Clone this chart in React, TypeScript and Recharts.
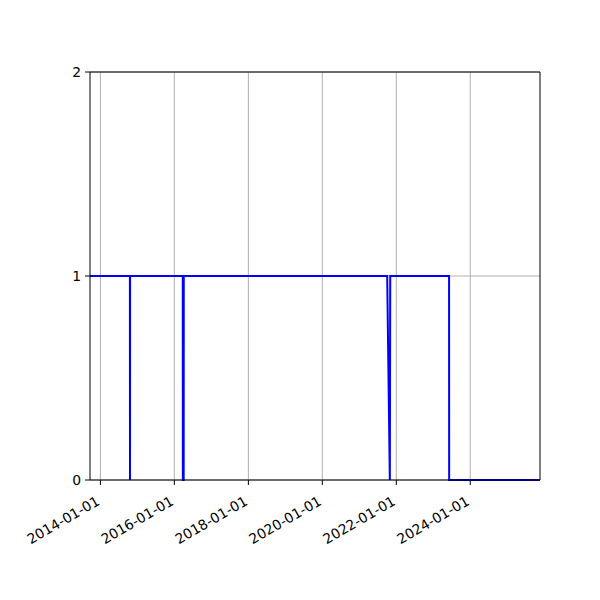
import React from 'react';
import {
  LineChart, Line, XAxis, YAxis, CartesianGrid, ReferenceLine,
} from 'recharts';

// status samples (1 = up, 0 = down)
const dates = [
  '2013-09-20', '2014-10-19', '2014-10-20', '2014-10-21',
  '2016-03-24', '2016-03-25', '2016-04-02', '2016-04-03',
  '2021-10-03', '2021-10-29', '2021-11-02',
  '2023-06-06', '2023-06-07', '2025-11-20',
];
const values = [
  1, 1, 0, 1,
  1, 0, 0, 1,
  1, 0, 1,
  1, 0, 0,
];
const tickDates = ['2014-01-01', '2016-01-01', '2018-01-01', '2020-01-01', '2022-01-01', '2024-01-01'];
const yTicks = [0, 1, 2];

const ts = (s: string) => {
  const [y, m, d] = s.split('-').map(Number);
  return Date.UTC(y, m - 1, d);
};

const data = dates.map((d, i) => ({ t: ts(d), v: values[i] }));
const xTicks = tickDates.map(ts);
const xMin = ts(dates[0]);
const xMax = ts(dates[dates.length - 1]);

const fmt = (t: number) => new Date(t).toISOString().slice(0, 10);

const FONT = 'DejaVu Sans, sans-serif';

const DateTick = ({ x, y, payload }: any) => (
  <text
    x={x - 5}
    y={y + 8}
    transform={`rotate(-30, ${x - 5}, ${y + 8})`}
    textAnchor="end"
    dominantBaseline="hanging"
    fill="#000"
    fontSize={13.9}
    fontFamily={FONT}
  >
    {fmt(payload.value)}
  </text>
);

export default function App() {
  return (
    <div style={{ position: 'absolute', left: 0, top: 0, width: 600, height: 600, background: '#fff' }}>
      <LineChart
        width={600}
        height={600}
        data={data}
        margin={{ top: 72, right: 60, bottom: 0, left: 0 }}
      >
        <CartesianGrid stroke="#b0b0b0" strokeWidth={1} horizontalValues={yTicks} verticalValues={xTicks} />
        <XAxis
          dataKey="t"
          type="number"
          scale="time"
          domain={[xMin, xMax]}
          ticks={xTicks}
          tick={<DateTick />}
          axisLine={{ stroke: '#000', strokeWidth: 1 }}
          tickLine={{ stroke: '#000' }}
          tickSize={5}
          height={120}
          interval={0}
        />
        <YAxis
          domain={[0, 2]}
          ticks={yTicks}
          width={90}
          axisLine={{ stroke: '#000', strokeWidth: 1 }}
          tickLine={{ stroke: '#000' }}
          tickSize={5}
          tick={{ fill: '#000', fontSize: 13.9, fontFamily: FONT, dx: -2 }}
          interval={0}
        />
        <ReferenceLine y={2} stroke="#000" strokeWidth={1} />
        <ReferenceLine x={xMax} stroke="#000" strokeWidth={1} />
        <Line
          type="linear"
          dataKey="v"
          stroke="#0000ff"
          strokeWidth={2}
          dot={false}
          isAnimationActive={false}
        />
      </LineChart>
    </div>
  );
}
